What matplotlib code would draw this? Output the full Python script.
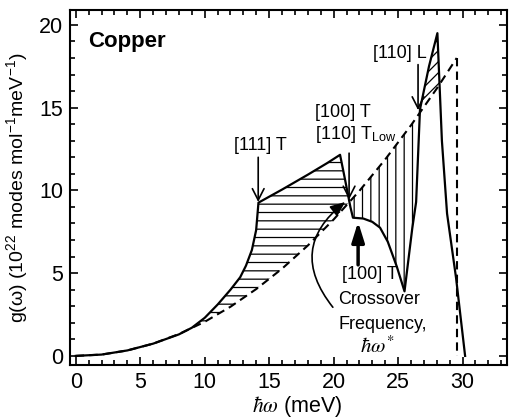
import numpy as np
import matplotlib
matplotlib.use('Agg')
import matplotlib.pyplot as plt
from matplotlib.ticker import MultipleLocator

plt.rcParams['font.family'] = ['Liberation Sans', 'DejaVu Sans']
plt.rcParams['mathtext.fontset'] = 'stix'
plt.rcParams['hatch.linewidth'] = 0.9

# Actual phonon density of states of copper (solid curve)
energy_actual = [0, 2, 4, 6, 8, 9, 10, 11, 12, 12.75, 13.2, 13.66, 13.99, 14.17,
                 16.0, 18.0, 19.5, 20.5, 20.9, 21.3, 21.5, 22.3, 23.0, 23.6, 24.2, 24.9,
                 25.5, 25.8, 26.1, 26.4, 26.7, 27.4, 28.05, 28.4, 28.8, 29.5, 30.2]
g_actual = [0, 0.08, 0.33, 0.74, 1.3, 1.7, 2.3, 3.1, 4.0, 4.75, 5.45, 6.4, 7.6, 9.26,
            10.05, 10.95, 11.65, 12.15, 10.6, 9.0, 8.35, 8.3, 8.1, 7.75, 6.9, 5.4,
            3.9, 5.8, 7.7, 9.3, 14.9, 17.5, 19.5, 13.0, 8.6, 4.7, 0]

# Debye model density of states (dashed curve)
energy_debye = [0, 2, 4, 6, 8, 10, 12, 14, 16, 18, 20, 22, 24, 26, 28, 29.55]
g_debye = [0, 0.08, 0.33, 0.74, 1.32, 2.06, 2.97, 4.04, 5.27, 6.67, 8.24, 9.97,
           11.87, 13.93, 16.15, 18.0]

xticks = [0, 5, 10, 15, 20, 25, 30]
yticks = [0, 5, 10, 15, 20]

fig = plt.figure(figsize=(5.11, 4.19), dpi=100)
ax = fig.add_axes([70 / 511, (419 - 365) / 419, (507 - 70) / 511, (365 - 10) / 419])

xg = np.linspace(0, energy_debye[-1], 5000)
s = np.interp(xg, energy_actual, g_actual)
d = np.interp(xg, energy_debye, g_debye)

ax.fill_between(xg, d, s, where=(xg >= 8.5) & (xg <= 21.6) & (s >= d), interpolate=True,
                facecolor='none', edgecolor='k', linewidth=0, hatch='--')
ax.fill_between(xg, s, d, where=(xg >= 21.0) & (xg <= 27.0) & (d >= s), interpolate=True,
                facecolor='none', edgecolor='k', linewidth=0, hatch='||')
ax.fill_between(xg, d, s, where=(xg >= 26.0) & (xg <= 28.8) & (s >= d), interpolate=True,
                facecolor='none', edgecolor='k', linewidth=0, hatch='///')

ax.plot(energy_actual, g_actual, color='k', lw=1.6)
ax.plot(energy_debye, g_debye, color='k', lw=1.5, ls=(0, (4, 2.5)))
ax.plot([energy_debye[-1], energy_debye[-1]], [g_debye[-1], 0], color='k', lw=1.5, ls=(0, (4, 2.5)))

ax.set_xlim(-0.45, 33.45)
ax.set_ylim(-0.55, 20.9)
ax.set_xticks(xticks)
ax.set_yticks(yticks)
ax.xaxis.set_minor_locator(MultipleLocator(1))
ax.yaxis.set_minor_locator(MultipleLocator(1))
ax.tick_params(which='both', direction='in', top=True, right=True, width=1.2, labelsize=15.5)
ax.tick_params(which='major', length=6, pad=5)
ax.tick_params(which='minor', length=3.5)
for sp in ax.spines.values():
    sp.set_linewidth(1.5)

ax.set_xlabel(r'$\hbar\omega$ (meV)', fontsize=15.5)
ax.xaxis.set_label_coords(0.52, -0.082)
ax.set_ylabel(r'g(ω) (10$^{\mathregular{22}}$ modes mol$^{\mathregular{-1}}$meV$^{\mathregular{-1}}$)', fontsize=14)
ax.yaxis.set_label_coords(-0.09, 0.5)

ax.text(0.97, 18.97, 'Copper', fontsize=16, fontweight='bold', ha='left', va='center')

fs = 13
thin = dict(arrowstyle='->,head_length=0.55,head_width=0.28', lw=1.2, color='k',
            mutation_scale=15, shrinkA=0, shrinkB=0)
ax.text(14.3, 12.7, '[111] T', fontsize=fs, ha='center', va='center')
ax.annotate('', xy=(14.15, 9.3), xytext=(14.15, 12.0), arrowprops=thin)

ax.text(18.55, 14.7, '[100] T', fontsize=fs, ha='left', va='center')
ax.text(18.55, 13.35, r'[110] T$_{\mathregular{Low}}$', fontsize=fs, ha='left', va='center')
ax.annotate('', xy=(21.2, 9.45), xytext=(21.2, 12.25), arrowprops=thin)

ax.text(23.06, 18.3, '[110] L', fontsize=fs, ha='left', va='center')
ax.annotate('', xy=(26.55, 14.85), xytext=(26.55, 17.6), arrowprops=thin)

ax.annotate('', xy=(21.9, 8.1), xytext=(21.9, 5.5),
            arrowprops=dict(arrowstyle='-|>,head_length=0.8,head_width=0.25', lw=2.5,
                            color='k', mutation_scale=15, shrinkA=0, shrinkB=0))
ax.text(20.66, 4.9, '[100] T', fontsize=fs, ha='left', va='center')

ax.text(20.35, 3.38, 'Crossover', fontsize=fs, ha='left', va='center')
ax.text(20.35, 1.9, 'Frequency,', fontsize=fs, ha='left', va='center')
ax.text(23.4, 0.6, r'$\hbar\omega^{*}$', fontsize=15, ha='center', va='center')

ax.annotate('', xy=(20.9, 9.3), xytext=(19.94, 2.94),
            arrowprops=dict(arrowstyle='-|>,head_length=0.6,head_width=0.25', lw=1.2,
                            color='k', mutation_scale=15, shrinkA=0, shrinkB=0,
                            connectionstyle='arc3,rad=-0.5'))

fig.savefig('out.png', dpi=100)
